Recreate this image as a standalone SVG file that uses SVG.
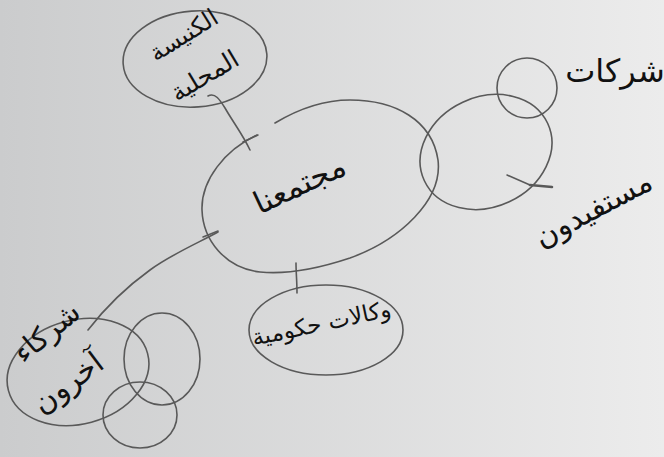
<svg xmlns="http://www.w3.org/2000/svg" width="664" height="457" viewBox="0 0 664 457">
<defs>
<linearGradient id="bg" x1="0" y1="0" x2="1" y2="0">
<stop offset="0" stop-color="#cbcccd"/>
<stop offset="1" stop-color="#ececec"/>
</linearGradient>
</defs>
<style>
.ln{fill:none;stroke:#595959;stroke-width:1.6;stroke-linecap:round;stroke-linejoin:round}
.tx{font-family:"DejaVu Sans","Noto Sans",sans-serif;fill:#111;text-anchor:middle}
</style>
<rect width="664" height="457" fill="url(#bg)"/>
<g id="connectors">
<path class="ln" d="M208,96 C215,92 220,100 225,108 C233,122 243,135 250,150"/>
<path class="ln" d="M243,142 L258,135"/>
<path class="ln" d="M296,263 C296,272 297,282 297,293"/>
<path class="ln" d="M218,232 C200,242 170,255 150,270 C125,288 105,308 88,330"/>
<path class="ln" d="M203,237 L218,231"/>
<path class="ln" d="M507,175 L530,185"/>
<path class="ln" d="M530,185 L552,187" style="stroke-width:2.6"/>
</g>
<g id="community">
<path class="ln" d="M275,123 C300,108 325,100 350,100 C395,100 432,120 438,160 C443,200 400,240 350,258 C320,268 290,275 260,272 C225,268 203,240 202,210 C201,180 225,150 257,135"/>
<text class="tx" font-size="31" transform="translate(304,194) rotate(-25)">مجتمعنا</text>
</g>
<g id="church">
<ellipse class="ln" cx="195" cy="59" rx="72" ry="48" transform="rotate(-4 195 59)"/>
<text class="tx" font-size="24" transform="translate(188,42) rotate(-32)">الكنيسة</text>
<text class="tx" font-size="25" transform="translate(209,83) rotate(-31)">المحلية</text>
</g>
<g id="agencies">
<ellipse class="ln" cx="326" cy="330" rx="77" ry="45"/>
<text class="tx" font-size="23" transform="translate(323,331) rotate(-12)">وكالات حكومية</text>
</g>
<g id="companies">
<ellipse class="ln" cx="527" cy="88" rx="30" ry="30"/>
<text class="tx" font-size="32" x="615" y="82">شركات</text>
</g>
<g id="beneficiaries">
<ellipse class="ln" cx="486" cy="152" rx="68" ry="55" transform="rotate(-25 486 152)"/>
<text class="tx" font-size="30" transform="translate(598,218) rotate(-28)">مستفيدون</text>
</g>
<g id="partners">
<ellipse class="ln" cx="78" cy="372" rx="72" ry="52" transform="rotate(-15 78 372)"/>
<ellipse class="ln" cx="162" cy="359" rx="38" ry="46"/>
<ellipse class="ln" cx="140" cy="415" rx="37" ry="33"/>
<text class="tx" font-size="29" transform="translate(53,340) rotate(-40)">شركاء</text>
<text class="tx" font-size="30" transform="translate(74,391) rotate(-37)">آخرون</text>
</g>
</svg>
